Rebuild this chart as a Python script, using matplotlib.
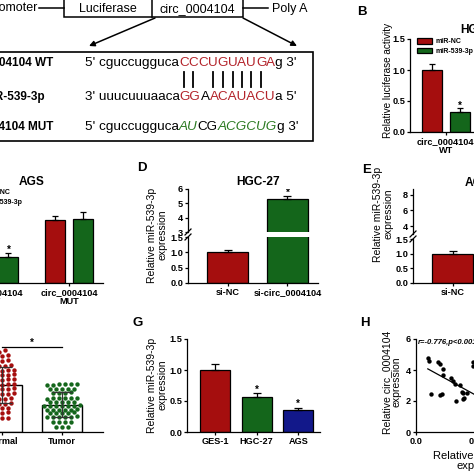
import numpy as np
import matplotlib
matplotlib.use('Agg')
import matplotlib.pyplot as plt
from matplotlib.patches import Rectangle
from matplotlib.ticker import FormatStrFormatter

plt.rcParams['font.family'] = ['Liberation Sans', 'DejaVu Sans']
plt.rcParams['font.weight'] = 'bold'
plt.rcParams['axes.linewidth'] = 0.9

# ---------------- data ----------------
luc_groups = ['circ_0004104\nWT', 'circ_0004104\nMUT']
luc_ticks = [0.0, 0.5, 1.0, 1.5]
# B : HGC-27 luciferase
b_nc = [1.00, 1.00]
b_nc_err = [0.10, 0.07]
b_mir = [0.33, 1.02]
b_mir_err = [0.05, 0.09]
b_sig = [True, False]
# C : AGS luciferase
c_nc = [1.00, 1.01]
c_nc_err = [0.09, 0.07]
c_mir = [0.42, 1.03]
c_mir_err = [0.06, 0.11]
c_sig = [True, False]
# D : HGC-27 knockdown
d_labels = ['si-NC', 'si-circ_0004104']
d_vals = [1.00, 5.27]
d_err = [0.08, 0.23]
d_sig = [False, True]
# E : AGS knockdown
e_labels = ['si-NC', 'si-circ_0004104']
e_vals = [1.00, 6.9]
e_err = [0.08, 0.40]
e_sig = [False, True]
# F : tissues
f_labels = ['Normal', 'Tumor']
normal_vals = [3.52, 3.45,
               3.28, 3.22, 3.30,
               3.05, 3.00, 3.08,
               2.85, 2.80, 2.88, 2.82,
               2.62, 2.65, 2.60, 2.68, 2.58,
               2.45, 2.42, 2.48, 2.40, 2.44,
               2.25, 2.22, 2.28, 2.20, 2.26,
               2.05, 2.02, 2.08, 2.00, 2.04,
               1.85, 1.82, 1.88, 1.80, 1.86,
               1.62, 1.65, 1.60, 1.68, 1.64,
               1.42, 1.45, 1.40, 1.44,
               1.20, 1.25, 1.22, 1.18,
               1.00, 1.05, 1.02,
               0.82, 0.85, 0.80,
               0.60, 0.55, 0.62]
tumor_vals = [2.07, 2.05, 2.04, 2.08, 2.06, 2.03,
              1.86, 1.84, 1.85, 1.83, 1.87,
              1.68, 1.66, 1.70, 1.67,
              1.47, 1.45, 1.46, 1.48, 1.44, 1.46,
              1.29, 1.30, 1.28, 1.31, 1.27,
              1.12, 1.11, 1.13, 1.10, 1.14, 1.12, 1.11,
              0.95, 0.96, 0.94, 0.97, 0.93, 0.95,
              0.82, 0.81, 0.83, 0.80, 0.84,
              0.65, 0.64, 0.66, 0.63, 0.67, 0.65,
              0.43, 0.42, 0.44, 0.41,
              0.22, 0.23, 0.21]
# G : cell lines
g_labels = ['GES-1', 'HGC-27', 'AGS']
g_vals = [1.00, 0.565, 0.355]
g_err = [0.10, 0.06, 0.035]
g_sig = [False, True, True]
# H : correlation
h_x = [0.10, 0.11, 0.13, 0.19, 0.20, 0.20, 0.22, 0.23, 0.23, 0.30, 0.31,
       0.33, 0.34, 0.37, 0.39, 0.40, 0.40, 0.41, 0.43, 0.48, 0.48,
       0.55, 0.60, 0.62, 0.65, 0.70, 0.72, 0.75, 0.80, 0.85, 0.90]
h_y = [4.77, 4.60, 2.45, 4.50, 4.40, 2.40, 2.45, 4.05, 3.70, 3.50, 3.30,
       3.10, 2.00, 3.05, 2.60, 2.50, 2.10, 2.20, 2.50, 4.50, 4.25,
       2.30, 1.80, 2.60, 1.50, 1.20, 1.90, 1.00, 0.90, 0.70, 0.50]
h_text = 'r=-0.776,p<0.001'

# ---------------- figure ----------------
W = H = 474
fig = plt.figure(figsize=(4.74, 4.74), dpi=100)

RED = '#a50e0e'
GREEN = '#14661b'
BLUE = '#12188a'
SEQ_RED = '#b3232a'
SEQ_GREEN = '#2c7a22'
TICK = 6.6


def px_axes(x0, y0, x1, y1):
    return fig.add_axes([x0 / W, 1 - y1 / H, (x1 - x0) / W, (y1 - y0) / H])


def style(ax, bottom=True):
    ax.spines['top'].set_visible(False)
    ax.spines['right'].set_visible(False)
    ax.spines['bottom'].set_visible(bottom)
    ax.tick_params(axis='both', length=2.5, width=0.9, labelsize=TICK, pad=1,
                   direction='out')
    ax.patch.set_alpha(0)


def up_err(ax, x, v, e, cap=2.5):
    ax.errorbar(x, v, yerr=[np.zeros(len(v)), e], fmt='none', ecolor='black',
                elinewidth=0.9, capsize=cap, capthick=0.9, zorder=3)


def stars(ax, x, v, e, sig):
    for xi, vi, ei, s in zip(x, v, e, sig):
        if s:
            ax.text(xi, vi + ei, '*', ha='center', va='baseline', fontsize=7,
                    clip_on=True)


# ---------- luciferase panels (B, C) ----------
def luc_panel(ax, nc, nce, mir, mire, sig, leg_xy):
    style(ax)
    x = np.arange(len(luc_groups))
    off, w = 14 / 75, 20 / 75
    b1 = ax.bar(x - off, nc, w, color=RED, edgecolor='black', linewidth=0.9,
                label='miR-NC')
    b2 = ax.bar(x + off, mir, w, color=GREEN, edgecolor='black', linewidth=0.9,
                label='miR-539-3p')
    up_err(ax, x - off, nc, nce)
    up_err(ax, x + off, mir, mire)
    stars(ax, x + off, mir, mire, sig)
    ax.set_xlim(-0.48, 1.45)
    ax.set_ylim(0, 1.5)
    ax.set_yticks(luc_ticks)
    ax.yaxis.set_major_formatter(FormatStrFormatter('%.1f'))
    ax.set_xticks(x)
    ax.set_xticklabels(luc_groups, linespacing=1.0)
    ax.legend(handles=[b1, b2], loc='upper left',
              bbox_to_anchor=(leg_xy[0] / W, 1 - leg_xy[1] / H),
              bbox_transform=fig.transFigure, frameon=False,
              prop={'size': 5, 'weight': 'bold'}, handlelength=2.2,
              handleheight=0.9, labelspacing=0.35, handletextpad=0.5,
              borderpad=0, borderaxespad=0)


axB = px_axes(410, 39, 554, 132)
luc_panel(axB, b_nc, b_nc_err, b_mir, b_mir_err, b_sig, (417, 38))
axC = px_axes(-41.5, 190, 103, 283)
luc_panel(axC, c_nc, c_nc_err, c_mir, c_mir_err, c_sig, (-34.5, 189))


# ---------- broken-axis panels (D, E) ----------
def broken(lo, hi, labels, vals, errs, sig, hi_lim, hi_ticks):
    x = np.arange(len(vals))
    w = 41 / 60
    for a in (lo, hi):
        a.bar(x, vals, w, color=[RED, GREEN], edgecolor='black', linewidth=0.9)
        up_err(a, x, vals, errs, cap=3)
        a.set_xlim(-0.66, 1.51)
    style(lo)
    style(hi, bottom=False)
    lo.set_ylim(0, 1.5)
    lo.set_yticks([0, 0.5, 1.0, 1.5])
    lo.yaxis.set_major_formatter(FormatStrFormatter('%.1f'))
    lo.set_xticks(x)
    lo.set_xticklabels(labels)
    hi.set_ylim(*hi_lim)
    hi.set_yticks(hi_ticks)
    hi.yaxis.set_major_formatter(FormatStrFormatter('%d'))
    hi.set_xticks([])
    stars(hi, x, vals, np.array(errs) + 0.05, sig)


d_lo = px_axes(188, 237, 318, 283)
d_hi = px_axes(188, 189, 318, 232)
broken(d_lo, d_hi, d_labels, d_vals, d_err, d_sig, (3, 6), [3, 4, 5, 6])
e_lo = px_axes(413, 239, 543, 283)
e_hi = px_axes(413, 189, 543, 234)
broken(e_lo, e_hi, e_labels, e_vals, e_err, e_sig, (3, 8.7), [4, 6, 8])


# ---------- F : scatter + bar ----------
def swarm(vals, center, dx, gap=0.08):
    vals = np.asarray(vals, float)
    order = np.argsort(vals)
    xs = np.empty_like(vals)
    rows, cur = [], [order[0]]
    for i in order[1:]:
        if vals[i] - vals[cur[-1]] > gap:
            rows.append(cur)
            cur = [i]
        else:
            cur.append(i)
    rows.append(cur)
    for r in rows:
        n = len(r)
        xs[r] = center + (np.arange(n) - (n - 1) / 2) * dx
    return xs


axF = px_axes(-39, 339, 103, 432)
style(axF)
f_groups = [normal_vals, tumor_vals]
f_cols = [RED, GREEN]
means = [np.mean(g) for g in f_groups]
sds = [np.std(g, ddof=1) for g in f_groups]
axF.bar([0, 1], means, 40 / 60, color='white', edgecolor='black', linewidth=1.0,
        zorder=1)
for i, (g, c) in enumerate(zip(f_groups, f_cols)):
    axF.scatter(swarm(g, i, 0.1), g, s=10, color=c, linewidths=0, zorder=3)
axF.errorbar([0, 1], means, yerr=sds, fmt='none', ecolor='#333333',
             elinewidth=0.9, capsize=7, capthick=0.9, zorder=4)
axF.plot([0, 1], [3.66, 3.66], color='black', lw=0.9)
axF.text(0.5, 3.70, '*', ha='center', va='baseline', fontsize=7)
axF.set_xlim(-0.68, 1.68)
axF.set_ylim(0, 4)
axF.set_xticks([0, 1])
axF.set_xticklabels(f_labels)

# ---------- G ----------
axG = px_axes(187, 339, 320, 432)
style(axG)
xg = np.arange(len(g_vals))
axG.bar(xg, g_vals, 30 / 41.75, color=[RED, GREEN, BLUE], edgecolor='black',
        linewidth=0.9)
up_err(axG, xg, g_vals, g_err, cap=3)
stars(axG, xg, g_vals, np.array(g_err) + 0.01, g_sig)
axG.set_xlim(-0.67, 2.52)
axG.set_ylim(0, 1.5)
axG.set_yticks([0, 0.5, 1.0, 1.5])
axG.yaxis.set_major_formatter(FormatStrFormatter('%.1f'))
axG.set_xticks(xg)
axG.set_xticklabels(g_labels)

# ---------- H ----------
axH = px_axes(416, 339, 534, 432)
style(axH)
axH.scatter(h_x, h_y, s=10, color='black', linewidths=0, zorder=3)
k, b0 = np.polyfit(h_x, h_y, 1)
xx = np.array([min(h_x), max(h_x)])
axH.plot(xx, k * xx + b0, color='black', lw=0.9)
axH.set_xlim(0, 1.0)
axH.set_ylim(0, 6)
axH.set_xticks([0, 0.5, 1.0])
axH.xaxis.set_major_formatter(FormatStrFormatter('%.1f'))
axH.set_yticks([0, 2, 4, 6])
axH.yaxis.set_major_formatter(FormatStrFormatter('%d'))

# ---------------- overlay (pixel coords) ----------------
ov = fig.add_axes([0, 0, 1, 1], zorder=5)
ov.set_xlim(0, W)
ov.set_ylim(H, 0)
ov.axis('off')
ov.patch.set_alpha(0)

# panel letters
for s, (x, y) in {'B': (362, 12), 'D': (142, 168), 'E': (367, 170),
                  'G': (138, 323), 'H': (365, 323)}.items():
    ov.text(x, y, s, ha='center', va='center', fontsize=9.5, weight='bold')

# titles
for s, (x, y) in {'HGC-27': (482, 30), 'AGS': (32, 182)}.items():
    ov.text(x, y, s, ha='center', va='center', fontsize=8.6, weight='bold')
ov.text(258, 182, 'HGC-27', ha='center', va='center', fontsize=8.6)
ov.text(478, 183, 'AGS', ha='center', va='center', fontsize=8.6)

# y labels
ylab = dict(rotation=90, ha='center', va='center', fontsize=7.5,
            weight='normal', linespacing=1.0, multialignment='center')
ov.text(388, 80, 'Relative luciferase activity', **dict(ylab, fontsize=7.2))
ov.text(157.5, 235, 'Relative miR-539-3p\nexpression', **ylab)
ov.text(383.5, 214, 'Relative miR-539-3p\nexpression', **ylab)
ov.text(157.5, 385, 'Relative miR-539-3p\nexpression', **ylab)
ov.text(392, 382, 'Relative circ_0004104\nexpression', **ylab)
ov.text(484, 461, 'Relative miR-539-3p\nexpression', ha='center', va='center',
        fontsize=8, weight='normal', linespacing=1.05)
ov.text(418, 342, h_text, ha='left', va='center', fontsize=5.5,
        style='italic', weight='bold')

# break marks
for bx, y1, y2 in ((188, 232, 237), (413, 234, 239)):
    for yy in (y1, y2):
        ov.plot([bx - 3, bx + 3], [yy + 3, yy - 3], color='black', lw=0.9)

# schematic
ov.plot([39, 64], [8, 8], color='black', lw=1.1)
ov.plot([243, 268], [8, 8], color='black', lw=1.1)
ov.add_patch(Rectangle((64, -3), 179, 20, fill=False, lw=1.1, ec='black'))
ov.plot([152, 152], [-3, 17], color='black', lw=1.1)
sch = dict(va='center', fontsize=9, weight='normal')
ov.text(37, 8, 'Promoter', ha='right', **sch)
ov.text(108, 9, 'Luciferase', ha='center', **sch)
ov.text(197.5, 9, 'circ_0004104', ha='center', **sch)
ov.text(272, 9, 'Poly A', ha='left', **sch)
arw = dict(arrowstyle='-|>', color='black', lw=1.1, mutation_scale=8,
           shrinkA=0, shrinkB=0)
ov.annotate('', xy=(89, 46), xytext=(155, 18), arrowprops=arw)
ov.annotate('', xy=(297, 46), xytext=(243, 18), arrowprops=arw)
ov.add_patch(Rectangle((-5, 52), 318, 89, fill=False, lw=1.2, ec='black'))

ov.text(53, 63, 'circ_0004104 WT', ha='right', va='center', fontsize=8.5)
ov.text(45, 97, 'miR-539-3p', ha='right', va='center', fontsize=8.5)
ov.text(53, 127, 'circ_0004104 MUT', ha='right', va='center', fontsize=8.5)

SEQ = 9.7


def rainbow(x, y, pieces):
    arts = []
    s, c, st = pieces[0]
    t = ov.text(x, y, s, color=c, style=st, ha='left', va='center',
                fontsize=SEQ, weight='normal')
    arts.append(t)
    for s, c, st in pieces[1:]:
        t = ov.annotate(s, xy=(1, 0), xycoords=t, ha='left', va='bottom',
                        color=c, style=st, fontsize=SEQ, weight='normal')
        arts.append(t)
    return arts


wt_seed = 'CCCUGUAUGA'
wt = rainbow(85, 63, [("5' cguccugguca", 'black', 'normal')] +
             [(ch, SEQ_RED, 'normal') for ch in wt_seed] +
             [("g 3'", 'black', 'normal')])
rainbow(85, 97, [("3' uuucuuuaaca", 'black', 'normal'), ('GG', SEQ_RED, 'normal'),
                 ('A', 'black', 'normal'), ('ACAUACU', SEQ_RED, 'normal'),
                 ("a 5'", 'black', 'normal')])
rainbow(85, 127, [("5' cguccugguca", 'black', 'normal'), ('AU', SEQ_GREEN, 'italic'),
                  ('CG', 'black', 'normal'), ('ACGCUG', SEQ_GREEN, 'italic'),
                  ("g 3'", 'black', 'normal')])

pairs = [0, 1, 3, 4, 5, 6, 7, 8]
fig.canvas.draw()
inv = ov.transData.inverted()
for i in pairs:
    bb = wt[1 + i].get_window_extent()
    cx = inv.transform([[(bb.x0 + bb.x1) / 2, 0]])[0][0]
    ov.plot([cx, cx], [72, 87], color='black', lw=1.3)

fig.savefig('out.png', dpi=100)
